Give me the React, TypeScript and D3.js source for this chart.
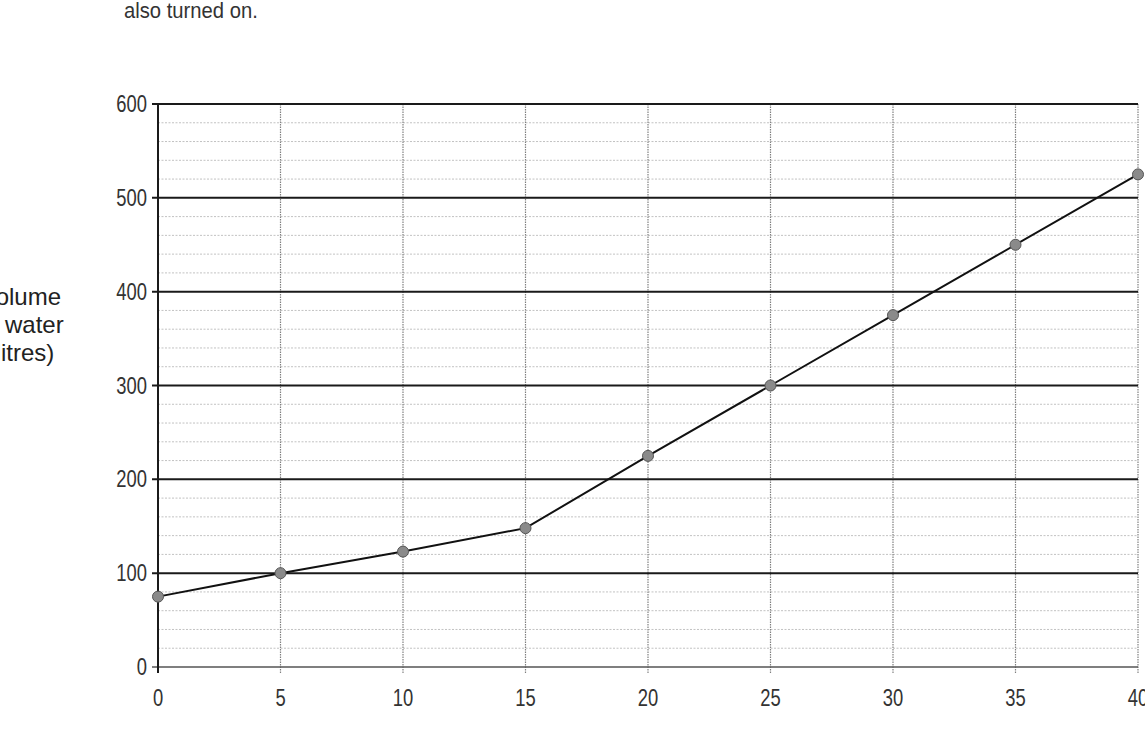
import React from "react";
import * as d3 from "d3";

const minutes = [0, 5, 10, 15, 20, 25, 30, 35, 40];
const volumes = [75, 100, 123, 148, 225, 300, 375, 450, 525];
const yTicks = [0, 100, 200, 300, 400, 500, 600];
const xTicks = [0, 5, 10, 15, 20, 25, 30, 35, 40];
const yMinor = d3.range(0, 601, 20).filter((v) => v % 100 !== 0);
const yLabelLines = ["Volume", "of water", "(litres)"];
const topText = "also turned on.";

const W = 1145;
const H = 734;

export default function App() {
  const x = d3.scaleLinear().domain([0, 40]).range([158, 1138]);
  const y = d3.scaleLinear().domain([0, 600]).range([667, 104]);
  const line = d3
    .line<number>()
    .x((_, i) => x(minutes[i]))
    .y((v) => y(v));
  const font = "'Liberation Sans', Arial, sans-serif";
  const yLabelY = [305, 333, 361];
  return (
    <svg
      width={W}
      height={H}
      style={{ position: "absolute", left: 0, top: 0, background: "#fff" }}
    >
      <rect x={0} y={0} width={W} height={H} fill="#fff" />
      <text
        transform="translate(124,18) scale(0.92,1)"
        fontFamily={font}
        fontSize={22}
        fill="#333"
      >
        {topText}
      </text>
      {yLabelLines.map((t, i) => (
        <text
          key={t}
          x={21}
          y={yLabelY[i]}
          textAnchor="middle"
          fontFamily={font}
          fontSize={24}
          fill="#222"
        >
          {t}
        </text>
      ))}
      {/* minor horizontal grid */}
      {yMinor.map((v) => (
        <line
          key={"m" + v}
          x1={x(0)}
          x2={x(40)}
          y1={y(v)}
          y2={y(v)}
          stroke="#c2c2c2"
          strokeWidth={1}
          strokeDasharray="2 1.5"
        />
      ))}
      {/* vertical grid */}
      {xTicks.map((v) => (
        <line
          key={"v" + v}
          x1={x(v)}
          x2={x(v)}
          y1={y(600)}
          y2={y(0) + 6}
          stroke="#808080"
          strokeWidth={1.2}
          strokeDasharray="1.5 1"
        />
      ))}
      {/* major horizontal grid */}
      {yTicks.map((v) => (
        <line
          key={"M" + v}
          x1={x(0) - 6}
          x2={x(40)}
          y1={y(v)}
          y2={y(v)}
          stroke={v === 0 ? "#555" : "#1a1a1a"}
          strokeWidth={v === 0 ? 1.5 : 2}
        />
      ))}
      {/* left axis */}
      <line x1={x(0)} x2={x(0)} y1={y(600)} y2={y(0) + 6} stroke="#1a1a1a" strokeWidth={2} />
      {/* y tick labels */}
      {yTicks.map((v) => (
        <text
          key={"yl" + v}
          transform={`translate(147,${y(v) + 8}) scale(0.8,1)`}
          textAnchor="end"
          fontFamily={font}
          fontSize={23}
          fill="#333"
        >
          {v}
        </text>
      ))}
      {/* x tick labels */}
      {xTicks.map((v) => (
        <text
          key={"xl" + v}
          transform={`translate(${x(v)},706) scale(0.8,1)`}
          textAnchor="middle"
          fontFamily={font}
          fontSize={23}
          fill="#333"
        >
          {v}
        </text>
      ))}
      <path d={line(volumes) || ""} fill="none" stroke="#111" strokeWidth={2} />
      {volumes.map((v, i) => (
        <circle
          key={"p" + i}
          cx={x(minutes[i])}
          cy={y(v)}
          r={5.5}
          fill="#8a8a8a"
          stroke="#555"
          strokeWidth={1}
        />
      ))}
    </svg>
  );
}
